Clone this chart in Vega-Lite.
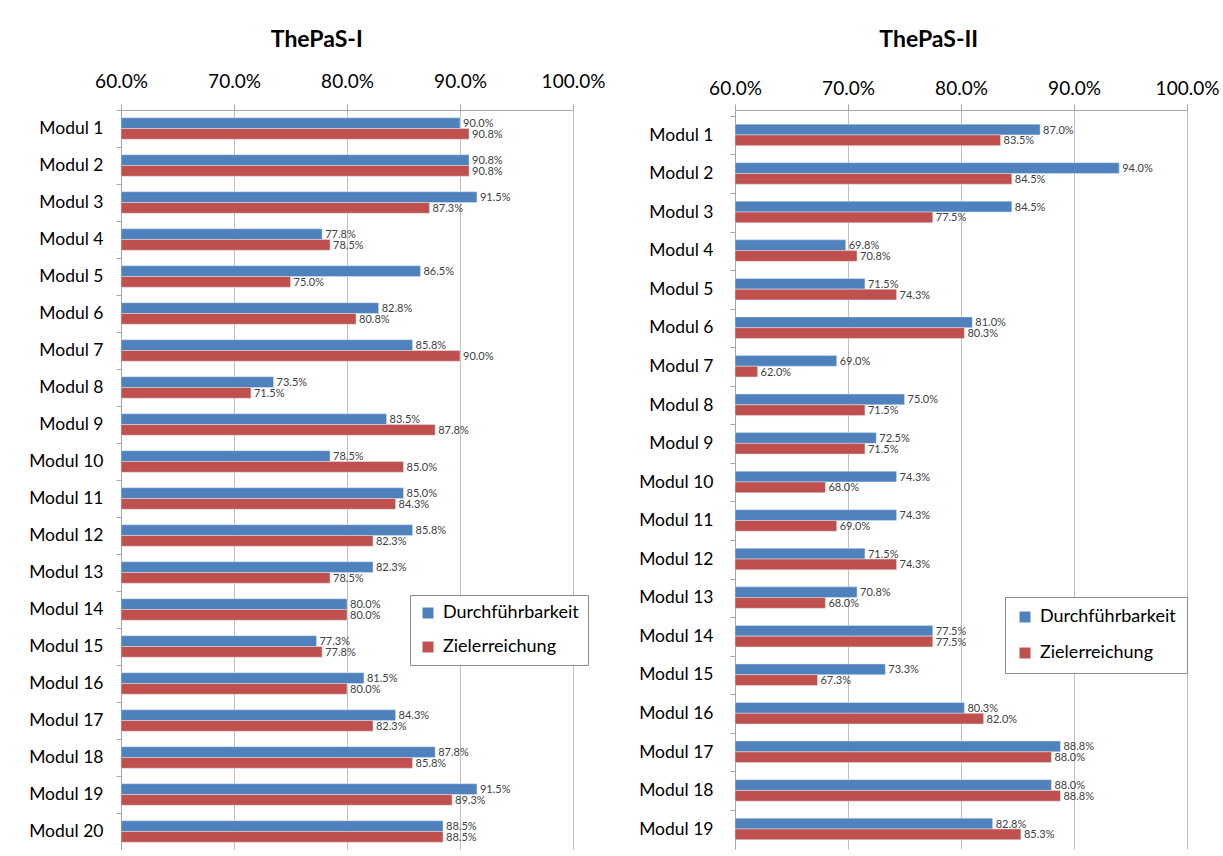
{
  "$schema": "https://vega.github.io/schema/vega-lite/v6.json",
  "background": "white",
  "padding": {"left": 28, "top": 29, "right": 0, "bottom": 0},
  "spacing": 33,
  "config": {
    "font": "Lato",
    "view": {"stroke": null},
    "axis": {"labelColor": "#000000", "domainColor": "#A6A6A6", "tickColor": "#A6A6A6", "gridColor": "#BFBFBF", "title": null},
    "title": {"fontSize": 23, "fontWeight": "bold", "color": "#000000", "font": "Lato", "frame": "bounds"}
  },
  "datasets": {
    "t1": [
      {"modul": "Modul 1", "serie": "Durchführbarkeit", "wert": 0.900},
      {"modul": "Modul 1", "serie": "Zielerreichung", "wert": 0.908},
      {"modul": "Modul 2", "serie": "Durchführbarkeit", "wert": 0.908},
      {"modul": "Modul 2", "serie": "Zielerreichung", "wert": 0.908},
      {"modul": "Modul 3", "serie": "Durchführbarkeit", "wert": 0.915},
      {"modul": "Modul 3", "serie": "Zielerreichung", "wert": 0.873},
      {"modul": "Modul 4", "serie": "Durchführbarkeit", "wert": 0.778},
      {"modul": "Modul 4", "serie": "Zielerreichung", "wert": 0.785},
      {"modul": "Modul 5", "serie": "Durchführbarkeit", "wert": 0.865},
      {"modul": "Modul 5", "serie": "Zielerreichung", "wert": 0.750},
      {"modul": "Modul 6", "serie": "Durchführbarkeit", "wert": 0.828},
      {"modul": "Modul 6", "serie": "Zielerreichung", "wert": 0.808},
      {"modul": "Modul 7", "serie": "Durchführbarkeit", "wert": 0.858},
      {"modul": "Modul 7", "serie": "Zielerreichung", "wert": 0.900},
      {"modul": "Modul 8", "serie": "Durchführbarkeit", "wert": 0.735},
      {"modul": "Modul 8", "serie": "Zielerreichung", "wert": 0.715},
      {"modul": "Modul 9", "serie": "Durchführbarkeit", "wert": 0.835},
      {"modul": "Modul 9", "serie": "Zielerreichung", "wert": 0.878},
      {"modul": "Modul 10", "serie": "Durchführbarkeit", "wert": 0.785},
      {"modul": "Modul 10", "serie": "Zielerreichung", "wert": 0.850},
      {"modul": "Modul 11", "serie": "Durchführbarkeit", "wert": 0.850},
      {"modul": "Modul 11", "serie": "Zielerreichung", "wert": 0.843},
      {"modul": "Modul 12", "serie": "Durchführbarkeit", "wert": 0.858},
      {"modul": "Modul 12", "serie": "Zielerreichung", "wert": 0.823},
      {"modul": "Modul 13", "serie": "Durchführbarkeit", "wert": 0.823},
      {"modul": "Modul 13", "serie": "Zielerreichung", "wert": 0.785},
      {"modul": "Modul 14", "serie": "Durchführbarkeit", "wert": 0.800},
      {"modul": "Modul 14", "serie": "Zielerreichung", "wert": 0.800},
      {"modul": "Modul 15", "serie": "Durchführbarkeit", "wert": 0.773},
      {"modul": "Modul 15", "serie": "Zielerreichung", "wert": 0.778},
      {"modul": "Modul 16", "serie": "Durchführbarkeit", "wert": 0.815},
      {"modul": "Modul 16", "serie": "Zielerreichung", "wert": 0.800},
      {"modul": "Modul 17", "serie": "Durchführbarkeit", "wert": 0.843},
      {"modul": "Modul 17", "serie": "Zielerreichung", "wert": 0.823},
      {"modul": "Modul 18", "serie": "Durchführbarkeit", "wert": 0.878},
      {"modul": "Modul 18", "serie": "Zielerreichung", "wert": 0.858},
      {"modul": "Modul 19", "serie": "Durchführbarkeit", "wert": 0.915},
      {"modul": "Modul 19", "serie": "Zielerreichung", "wert": 0.893},
      {"modul": "Modul 20", "serie": "Durchführbarkeit", "wert": 0.885},
      {"modul": "Modul 20", "serie": "Zielerreichung", "wert": 0.885}
    ],
    "t2": [
      {"modul": "Modul 1", "serie": "Durchführbarkeit", "wert": 0.870},
      {"modul": "Modul 1", "serie": "Zielerreichung", "wert": 0.835},
      {"modul": "Modul 2", "serie": "Durchführbarkeit", "wert": 0.940},
      {"modul": "Modul 2", "serie": "Zielerreichung", "wert": 0.845},
      {"modul": "Modul 3", "serie": "Durchführbarkeit", "wert": 0.845},
      {"modul": "Modul 3", "serie": "Zielerreichung", "wert": 0.775},
      {"modul": "Modul 4", "serie": "Durchführbarkeit", "wert": 0.698},
      {"modul": "Modul 4", "serie": "Zielerreichung", "wert": 0.708},
      {"modul": "Modul 5", "serie": "Durchführbarkeit", "wert": 0.715},
      {"modul": "Modul 5", "serie": "Zielerreichung", "wert": 0.743},
      {"modul": "Modul 6", "serie": "Durchführbarkeit", "wert": 0.810},
      {"modul": "Modul 6", "serie": "Zielerreichung", "wert": 0.803},
      {"modul": "Modul 7", "serie": "Durchführbarkeit", "wert": 0.690},
      {"modul": "Modul 7", "serie": "Zielerreichung", "wert": 0.620},
      {"modul": "Modul 8", "serie": "Durchführbarkeit", "wert": 0.750},
      {"modul": "Modul 8", "serie": "Zielerreichung", "wert": 0.715},
      {"modul": "Modul 9", "serie": "Durchführbarkeit", "wert": 0.725},
      {"modul": "Modul 9", "serie": "Zielerreichung", "wert": 0.715},
      {"modul": "Modul 10", "serie": "Durchführbarkeit", "wert": 0.743},
      {"modul": "Modul 10", "serie": "Zielerreichung", "wert": 0.680},
      {"modul": "Modul 11", "serie": "Durchführbarkeit", "wert": 0.743},
      {"modul": "Modul 11", "serie": "Zielerreichung", "wert": 0.690},
      {"modul": "Modul 12", "serie": "Durchführbarkeit", "wert": 0.715},
      {"modul": "Modul 12", "serie": "Zielerreichung", "wert": 0.743},
      {"modul": "Modul 13", "serie": "Durchführbarkeit", "wert": 0.708},
      {"modul": "Modul 13", "serie": "Zielerreichung", "wert": 0.680},
      {"modul": "Modul 14", "serie": "Durchführbarkeit", "wert": 0.775},
      {"modul": "Modul 14", "serie": "Zielerreichung", "wert": 0.775},
      {"modul": "Modul 15", "serie": "Durchführbarkeit", "wert": 0.733},
      {"modul": "Modul 15", "serie": "Zielerreichung", "wert": 0.673},
      {"modul": "Modul 16", "serie": "Durchführbarkeit", "wert": 0.803},
      {"modul": "Modul 16", "serie": "Zielerreichung", "wert": 0.820},
      {"modul": "Modul 17", "serie": "Durchführbarkeit", "wert": 0.888},
      {"modul": "Modul 17", "serie": "Zielerreichung", "wert": 0.880},
      {"modul": "Modul 18", "serie": "Durchführbarkeit", "wert": 0.880},
      {"modul": "Modul 18", "serie": "Zielerreichung", "wert": 0.888},
      {"modul": "Modul 19", "serie": "Durchführbarkeit", "wert": 0.828},
      {"modul": "Modul 19", "serie": "Zielerreichung", "wert": 0.853}
    ]
  },
  "resolve": {"scale": {"color": "independent"}, "legend": {"color": "independent"}},
  "hconcat": [
    {
      "title": {"text": "ThePaS-I", "offset": 20},
      "width": 452,
      "height": 740,
      "data": {"name": "t1"},
      "encoding": {
        "y": {
          "field": "modul", "type": "nominal",
          "sort": ["Modul 1","Modul 2","Modul 3","Modul 4","Modul 5","Modul 6","Modul 7","Modul 8","Modul 9","Modul 10","Modul 11","Modul 12","Modul 13","Modul 14","Modul 15","Modul 16","Modul 17","Modul 18","Modul 19","Modul 20"],
          "scale": {"paddingInner": 0, "paddingOuter": 0},
          "axis": {"bandPosition": 0, "tickSize": 5, "labelPadding": 13, "labelFontSize": 17.5, "grid": false}
        },
        "yOffset": {"field": "serie", "type": "nominal", "sort": ["Durchführbarkeit", "Zielerreichung"], "scale": {"paddingOuter": 0.72, "paddingInner": 0}},
        "x": {
          "field": "wert", "type": "quantitative",
          "scale": {"domain": [0.6, 1.0], "zero": false, "nice": false},
          "axis": {"orient": "top", "format": ".1%", "values": [0.6, 0.7, 0.8, 0.9, 1.0], "labelFlush": false, "tickSize": 6, "labelPadding": 13, "labelFontSize": 19, "grid": true}
        }
      },
      "layer": [
        {
          "mark": {"type": "bar", "stroke": "#DDE6F2", "strokeWidth": 0.5},
          "encoding": {
            "x2": {"datum": 0.6},
            "color": {
              "field": "serie", "type": "nominal",
              "scale": {"domain": ["Durchführbarkeit", "Zielerreichung"], "range": ["#4F81BD", "#C0504D"]},
              "legend": {"title": null, "orient": "none", "legendX": 289, "legendY": 485, "strokeColor": "#8C8C8C", "fillColor": "white", "padding": 9, "symbolType": "square", "symbolSize": 120, "symbolStrokeWidth": 0, "labelFontSize": 18, "labelColor": "#000000", "rowPadding": 16, "labelOffset": 6}
            }
          }
        },
        {
          "mark": {"type": "text", "align": "left", "baseline": "middle", "dx": 3, "dy": 1, "fontSize": 11, "color": "#404040"},
          "encoding": {"text": {"field": "wert", "type": "quantitative", "format": ".1%"}}
        }
      ]
    },
    {
      "title": {"text": "ThePaS-II", "offset": 27},
      "width": 452,
      "height": 739,
      "data": {"name": "t2"},
      "encoding": {
        "y": {
          "field": "modul", "type": "nominal",
          "sort": ["Modul 1","Modul 2","Modul 3","Modul 4","Modul 5","Modul 6","Modul 7","Modul 8","Modul 9","Modul 10","Modul 11","Modul 12","Modul 13","Modul 14","Modul 15","Modul 16","Modul 17","Modul 18","Modul 19"],
          "scale": {"paddingInner": 0, "paddingOuter": 0.083, "align": 1},
          "axis": {"bandPosition": 0, "tickSize": 5, "labelPadding": 17, "labelFontSize": 17.5, "grid": false}
        },
        "yOffset": {"field": "serie", "type": "nominal", "sort": ["Durchführbarkeit", "Zielerreichung"], "scale": {"paddingOuter": 0.75, "paddingInner": 0}},
        "x": {
          "field": "wert", "type": "quantitative",
          "scale": {"domain": [0.6, 1.0], "zero": false, "nice": false},
          "axis": {"orient": "top", "format": ".1%", "values": [0.6, 0.7, 0.8, 0.9, 1.0], "labelFlush": false, "tickSize": 6, "labelPadding": 6, "labelFontSize": 19, "grid": true}
        }
      },
      "layer": [
        {
          "mark": {"type": "bar", "stroke": "#DDE6F2", "strokeWidth": 0.5},
          "encoding": {
            "x2": {"datum": 0.6},
            "color": {
              "field": "serie", "type": "nominal",
              "scale": {"domain": ["Durchführbarkeit", "Zielerreichung"], "range": ["#4F81BD", "#C0504D"]},
              "legend": {"title": null, "orient": "none", "legendX": 270, "legendY": 487, "strokeColor": "#8C8C8C", "fillColor": "white", "padding": 11, "symbolType": "square", "symbolSize": 120, "symbolStrokeWidth": 0, "labelFontSize": 18, "labelColor": "#000000", "rowPadding": 18, "labelOffset": 6}
            }
          }
        },
        {
          "mark": {"type": "text", "align": "left", "baseline": "middle", "dx": 3, "dy": 1, "fontSize": 11, "color": "#404040"},
          "encoding": {"text": {"field": "wert", "type": "quantitative", "format": ".1%"}}
        }
      ]
    }
  ]
}
